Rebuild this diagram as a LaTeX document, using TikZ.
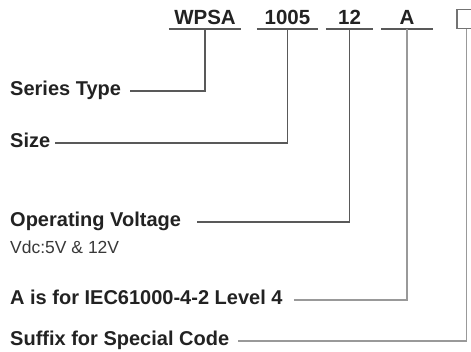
\documentclass[tikz,border=0pt]{standalone}
\usepackage{fontspec}
\setmainfont{Liberation Sans}
\usepackage{xcolor}
\usetikzlibrary{positioning}

\definecolor{ink}{HTML}{222222}

\begin{document}
\begin{tikzpicture}[
  x=1pt, y=-1pt,
  code/.style={font=\fontsize{20.5}{22}\selectfont\bfseries, text=ink,
               inner sep=0pt, minimum height=24pt},
  field/.style={font=\fontsize{20}{22}\selectfont\bfseries, text=ink,
                inner sep=0pt, text height=14pt, text depth=4pt, anchor=west},
  note/.style={font=\fontsize{17.5}{19}\selectfont, text=ink!90,
               inner sep=0pt, text height=12pt, text depth=3.5pt, anchor=west},
  lead/.style={draw=black!65, line width=1.4pt},
  leadlt/.style={draw=black!40, line width=1.4pt},
]
\useasboundingbox (0,0) rectangle (471,352);
\clip (0,0) rectangle (471,352);

% part number fields
\node[code, minimum width=72pt] (wpsa) at (205,17) {WPSA};
\node[code, minimum width=61pt] (size code) at (287.5,17) {1005};
\node[code, minimum width=47pt] (volt code) at (349.5,17) {12};
\node[code, minimum width=51pt] (esd code) at (407,17) {A};
\node[draw=black!55, line width=1.4pt, minimum width=19pt, minimum height=19pt,
      inner sep=0pt] (suffix box) at (466.5,19) {};

\foreach \n in {wpsa, size code, volt code, esd code}
  \draw[lead] (\n.south west) -- (\n.south east);

% descriptions
\node[field] (series) at (10,91) {Series Type};
\node[field] (size) at (10,143) {Size};
\node[field] (volt) at (10,222) {Operating Voltage};
\node[note] (vdc) at (10,249) {Vdc:5V \& 12V};
\node[field] (esd) at (10,300) {A is for IEC61000-4-2 Level 4};
\node[field] (suffix) at (10,341) {Suffix for Special Code};

\draw[lead, shorten <=9pt] (series.east) -| (wpsa.south);
\draw[lead, shorten <=5pt] (size.east) -| (size code.south);
\draw[lead, shorten <=16pt] (volt.east) -| (volt code.south);
\draw[leadlt, shorten <=11pt] (esd.east) -| (esd code.south);
\draw[leadlt, shorten <=9pt] (suffix.east) -| (suffix box.south);
\end{tikzpicture}
\end{document}
